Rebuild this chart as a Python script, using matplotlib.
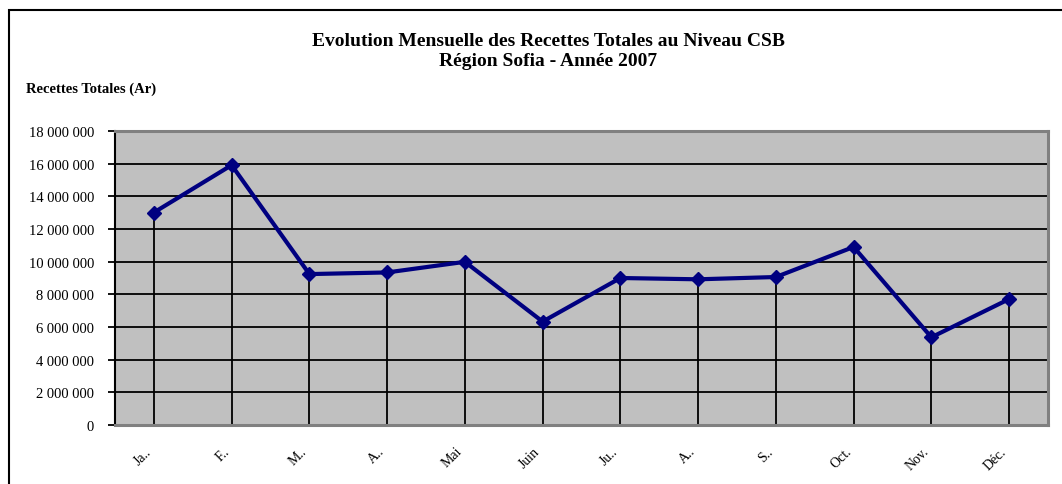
import matplotlib
matplotlib.use('Agg')
import matplotlib.pyplot as plt
from matplotlib.patches import Rectangle
from matplotlib.ticker import FuncFormatter, MultipleLocator
import numpy as np

# data
months = ['Ja..', 'F..', 'M..', 'A..', 'Mai', 'Juin', 'Ju..', 'A..', 'S..', 'Oct.', 'Nov.', 'Déc.']
recettes = [13010000, 15910000, 9240000, 9340000, 9990000, 6330000,
            9000000, 8920000, 9060000, 10900000, 5370000, 7710000]

plt.rcParams['font.family'] = ['Liberation Serif', 'DejaVu Serif']

fig = plt.figure(figsize=(10.62, 4.85), dpi=100)
ax = fig.add_axes([115/1062, 1-426/485, (1048-115)/1062, (426-132)/485])
ax.set_facecolor('#c0c0c0')

x = np.arange(len(months))
ax.set_xlim(-0.5, len(months)-0.5)
ax.set_ylim(0, 18000000)
ax.yaxis.set_major_locator(MultipleLocator(2000000))
ax.yaxis.set_major_formatter(FuncFormatter(lambda v, p: f'{int(v):,}'.replace(',', ' ')))
ax.grid(axis='y', color='black', linewidth=1.3, zorder=1)
ax.set_axisbelow(True)

# drop lines then the series
ax.vlines(x, 0, recettes, color='black', linewidth=1.3, zorder=2)
ax.plot(x, recettes, color='#000080', linewidth=3, marker='D', markersize=7.5, zorder=3)

ax.set_xticks(x)
ax.set_xticklabels(months, rotation=45, ha='right', va='top', fontsize=10)
ax.tick_params(axis='x', length=0, pad=14)
ax.tick_params(axis='y', labelsize=10.5, length=5, width=1.3, color='black', pad=10)

for s in ['top', 'right', 'bottom']:
  ax.spines[s].set_color('#808080')
  ax.spines[s].set_linewidth(2.2)
ax.spines['left'].set_color('black')
ax.spines['left'].set_linewidth(1.5)

fig.text(548/1062, 1-41/485, 'Evolution Mensuelle des Recettes Totales au Niveau CSB',
         ha='center', va='center', fontsize=14, fontweight='bold')
fig.text(548/1062, 1-62/485, 'Région Sofia - Année 2007',
         ha='center', va='center', fontsize=14, fontweight='bold')
fig.text(26/1062, 1-89/485, 'Recettes Totales (Ar)', ha='left', va='center',
         fontsize=10.5, fontweight='bold')

# outer chart frame (runs off the right and bottom edges)
fig.patches.append(Rectangle((9/1062, -0.1), 1.2, 1.1-11/485, transform=fig.transFigure,
                             fill=False, edgecolor='black', linewidth=1.5))

fig.savefig('out.png', dpi=100)
